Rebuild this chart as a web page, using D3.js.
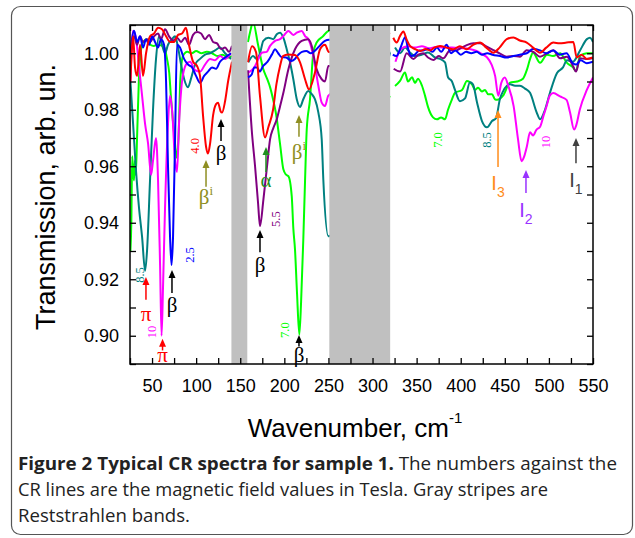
<!DOCTYPE html>
<html>
<head>
<meta charset="utf-8">
<script src="https://cdn.jsdelivr.net/npm/d3@7"></script>
<style>
body { margin: 0; background: #fff; }
</style>
</head>
<body>
<svg id="chart" width="635" height="538" font-family="Liberation Sans, Arial, sans-serif"></svg>
<script>
// Reststrahlen bands, cm-1
var bands = [[140, 158], [251, 320]]

var xMajor = [50, 100, 150, 200, 250, 300, 350, 400, 450, 500, 550]
var xMinor = [25, 75, 125, 175, 225, 275, 325, 375, 425, 475, 525]
var yMajor = [0.90, 0.92, 0.94, 0.96, 0.98, 1.00]
var yMinor = [0.89, 0.91, 0.93, 0.95, 0.97, 0.99, 1.01]

// spectra: [wavenumber, transmission]
var spec25 = [
	[25.5,1.0],[29.6,1.008],[33,1.004],[36.4,1.006],[39.8,1.002],[43.2,1.005],[46.6,1.003],[50,1.006],[53.4,1.004],[56.8,1.002],[60.2,1.005],[63.6,1.003],[65.9,0.99],[68.1,0.96],[70.4,0.935],[72.1,0.925],[73.8,0.935],[76.1,0.97],[78.3,1.003],[81.7,1.002],[86.3,0.998],[90.8,0.996],[95.4,0.995],[99.9,0.992],[104.4,0.9895],[109,0.992],[113.5,0.9935],[118,0.995],[122.6,0.9945],[127.1,0.997],[132.8,0.9985],[139.6,1.0],
	[158.8,0.9915],[163,0.9925],[166,0.995],[169,0.995],[172,0.9935],[176,0.9955],[181,0.997],[186,0.9996],[189.5,1.0014],[193,1.0],[197,0.9986],[202,0.9985],[208,0.9973],[212,0.998],[216,0.9995],[220,1.0005],[225,1.0008],[230,1.0],[235,1.001],[240,1.0026],[246,1.0044],[250.7,1.0048],
	[319.8,1.0003],[323,0.9995],[327,0.999],[330,1.0005],[333,1.003],[337,1.0057],[340,1.002],[344,0.999],[348,0.9995],[353,1.001],[358,1.001],[363,1.0015],[368,1.0005],[373,1.002],[378,1.0005],[384,1.003],[389,1.0],[394,1.001],[400,0.9995],[406,1.0005],[412,1.0],[418,1.0005],[424,0.9995],[430,1.0],[436,0.9995],[444.6,0.999],[452,0.9985],[459.8,0.999],[467,0.9995],[474.9,1.0],[482,1.0015],[490,1.001],[497,1.0],[505,1.001],[512,0.9995],[520,1.0],[527,0.9965],[531,0.996],[536,0.9975],[543,0.9965],[550,0.997]
]
var spec40 = [
	[25.5,0.99],[28.5,1.006],[30.7,0.995],[33,0.992],[36.4,1.003],[39.8,0.992],[43.2,1.0],[47.7,1.006],[52.3,1.007],[56.8,1.009],[61.3,1.0085],[65.9,1.006],[70.4,1.004],[74.9,1.004],[79.5,1.0065],[84,1.007],[88.5,1.009],[91.9,1.003],[96.5,0.997],[101,0.9955],[104.4,0.992],[107.8,0.978],[111.2,0.967],[113.5,0.9645],[115.8,0.968],[119.2,0.978],[122.6,0.982],[124.8,0.9825],[127.7,0.9795],[129.4,0.979],[132.8,0.983],[136.2,0.99],[140.7,0.997],
	[158.8,0.9968],[163.4,1.0025],[167.9,1.0004],[172.4,0.9848],[178.1,0.9702],[182,0.974],[187.2,0.98],[191,0.989],[195.1,0.9954],[198.5,0.999],[204.2,0.9996],[212.1,0.9994],[217.8,0.9968],[223.5,0.9908],[228,0.9872],[234.8,0.9933],[240.5,1.0014],[246.1,1.003],[250.5,1.0004],
	[319.8,1.0073],[323.5,1.0055],[327.4,1.0038],[331,1.006],[335,1.0077],[338.5,1.005],[342.5,1.0026],[348,1.0015],[353.9,1.0008],[360,1.0015],[365,1.001],[370,1.002],[376.5,1.0026],[384,1.002],[391.6,1.0014],[399,1.0025],[406.8,1.0014],[414,1.003],[421.9,1.0038],[429,1.002],[437,1.0002],[444,1.002],[452.2,1.005],[459.8,1.0056],[467,1.0045],[474.9,1.0038],[482,1.002],[490,1.0002],[497,1.002],[505,1.0038],[512,1.0035],[520.2,1.0038],[527.7,1.004],[531.5,0.9985],[537,0.9995],[543,0.998],[549.6,0.9985]
]
var spec55 = [
	[25.5,0.998],[29.6,1.006],[33,1.003],[36.4,1.006],[39.8,1.004],[44.3,1.005],[47.7,1.004],[52.3,1.006],[56.8,1.007],[60.2,1.005],[64.7,1.0085],[69.3,1.006],[73.8,1.0045],[78.3,1.0055],[82.9,1.004],[87.4,1.0055],[91.9,1.003],[96.5,1.0065],[101,1.0075],[105.6,1.007],[110.1,1.005],[114.6,1.0065],[119.2,1.004],[123.7,1.0035],[128.2,1.0015],[132.8,1.002],[137.3,1.0005],[140.7,1.0026],
	[158.8,0.994],[163,0.973],[166.8,0.96],[170.2,0.947],[172.4,0.9388],[176.2,0.948],[180.4,0.96],[183.8,0.9695],[187.5,0.9735],[191.4,0.9766],[195,0.981],[198.9,0.986],[204.6,0.9943],[212.1,1.0014],[219.7,1.0044],[226.9,1.005],[231.1,1.0026],[234,0.998],[236.7,0.9943],[242.4,0.9908],[246.1,0.99],[249.9,0.9955],
	[319.8,0.9955],[324,0.9945],[331.2,0.9935],[338.7,1.0],[346.3,0.998],[352,0.9995],[357.6,1.0],[363,0.9985],[369,0.9976],[375,0.999],[380.3,0.9982],[387.9,1.0011],[395.4,1.0011],[401,1.002],[406.8,1.0029],[414.3,1.0035],[421.9,1.0035],[429.5,1.0023],[437,1.0011],[444.6,0.9999],[452.1,0.9988],[460,0.999],[467.2,0.9988],[474.8,1.0011],[482.3,1.0005],[489.9,0.9988],[497.5,0.9999],[505,1.0011],[512.6,0.9982],[520.2,0.9988],[527.7,0.9952],[530.7,0.9935],[535.3,0.9982],[542,0.998],[549.6,0.9982]
]
var spec70 = [
	[25.5,0.93],[26.5,0.94],[27.5,0.9635],[28.5,0.958],[29.5,0.955],[30.5,0.962],[31.5,0.957],[33,0.97],[35,0.99],[37,1.0],[40,1.004],[44,1.005],[48,1.003],[52,1.0026],[56,1.003],[60,1.0028],[64,1.002],[67,0.998],[69.5,0.993],[71.3,0.985],[73.5,0.9766],[75.5,0.97],[78,0.963],[80,0.97],[82,0.99],[85,0.999],[90,1.0005],[95,1.0],[100,1.0008],[106,1.0],[112,1.0005],[118,1.0],[124,0.999],[130,0.9995],[136,0.9985],[140.7,0.999],
	[158.8,1.004],[161.5,1.008],[164.5,1.011],[170.2,1.003],[175.9,0.9946],[180.4,0.991],[183.8,0.988],[187.2,0.9837],[190.6,0.9785],[195.1,0.968],[198.9,0.9589],[202,0.957],[204.6,0.9565],[208.4,0.9494],[210.2,0.938],[212.1,0.9305],[214.4,0.915],[217,0.9004],[219,0.912],[221.5,0.934],[223.5,0.955],[225.4,0.973],[229.1,0.9837],[232.9,1.0002],[237,1.004],[243.9,1.006],[250.7,1.008],
	[319.8,0.9843],[325.5,0.9884],[331.2,0.9902],[336.8,0.9932],[340.2,0.99],[344.8,0.9915],[348.2,0.9895],[351.6,0.991],[356.1,0.9885],[359.5,0.985],[362.9,0.981],[368.6,0.9773],[373.1,0.9766],[377.7,0.9773],[382.2,0.9766],[385.6,0.98],[390.1,0.9837],[393.5,0.986],[401.5,0.987],[407.1,0.9902],[412.8,0.989],[416.2,0.987],[419.6,0.9878],[424.1,0.9865],[427.6,0.987],[431,0.9855],[435.5,0.9855],[438.9,0.9837],[441.2,0.9835],[448,0.985],[455.9,0.9896],[463.8,0.99],[470.6,0.991],[475.2,0.9943],[478.6,0.9979],[482,1.0002],[490,0.9966],[497.8,0.9995],[504.6,0.999],[512.6,1.0],[520.5,0.9966],[527.3,0.995],[530.7,0.9937],[535.3,0.999],[543.1,1.0],[550,1.0]
]
var spec85 = [
	[25.5,0.99],[28.5,0.975],[31.9,0.958],[35.3,0.945],[38.7,0.935],[42.1,0.923],[44.3,0.93],[47.7,0.955],[51.1,0.98],[54.5,0.998],[58,1.006],[61.3,1.003],[64.7,1.0],[68.1,1.003],[72.7,1.005],[76.1,1.006],[79.5,1.002],[82.9,0.996],[86.3,0.991],[90.8,0.988],[94.2,0.991],[98.8,0.996],[104.4,0.998],[110.1,0.9995],[115.8,1.0],[121.4,1.001],[127.1,1.002],[132.8,1.0],[139.6,0.998],
	[159.2,0.9968],[164.5,0.999],[168.7,0.998],[172.4,1.0],[176.2,1.0044],[181.9,1.0055],[187.5,1.005],[191.4,1.0067],[195.1,1.0073],[198.9,1.0055],[202.7,1.0014],[206.5,0.9967],[210.2,0.9908],[214.1,0.9837],[217.8,0.981],[221.5,0.9837],[227.2,0.9866],[231.1,0.9855],[234.8,0.9837],[238.6,0.979],[242.4,0.9695],[244.2,0.9553],[249.9,0.9352],
	[319.8,1.0003],[325.5,1.002],[331.2,1.0],[336.8,1.002],[342.5,1.0003],[348.2,0.999],[356.1,0.9995],[362.9,1.0003],[370.8,0.9985],[376.5,0.998],[382.2,0.9968],[385.6,0.9915],[390.1,0.99],[393.5,0.987],[399.2,0.983],[404.9,0.984],[410.5,0.9897],[413.9,0.989],[418.5,0.9826],[424.1,0.976],[429.8,0.9738],[435.5,0.976],[440,0.977],[444.6,0.984],[448,0.9865],[455.9,0.989],[461.6,0.9885],[467.2,0.9885],[472.9,0.9875],[478.6,0.986],[486.2,0.979],[490,0.9766],[495.6,0.98],[501.2,0.986],[509.2,0.993],[516,0.995],[520.5,0.9975],[527.3,0.997],[535.3,1.001],[543.1,1.005],[546.6,1.0055],[550,1.004]
]
var spec100 = [
	[25.5,0.99],[28.5,1.008],[31.9,1.005],[35.3,0.995],[38.7,0.985],[42.1,0.975],[45.5,0.968],[48.9,0.957],[51.1,0.962],[54.5,0.97],[56.8,0.955],[59.1,0.925],[60.8,0.9],[62.5,0.918],[64.7,0.945],[68.1,0.975],[70.4,0.985],[72.7,0.98],[76.1,0.962],[78.3,0.958],[80.6,0.975],[84,0.99],[88.5,0.996],[93.1,0.997],[98.8,0.994],[104.4,0.9935],[110.1,0.996],[115.8,0.998],[121.4,0.9975],[127.1,0.999],[132.8,0.998],[139.6,1.0],
	[158.8,0.9932],[163,0.994],[166.8,0.9955],[170.6,0.998],[174.4,1.0002],[180,1.0005],[183.8,1.0026],[189.5,1.0044],[195.1,1.005],[198.9,1.0061],[204.6,1.0079],[210.2,1.0065],[214.1,1.0073],[219.7,1.0079],[223.5,1.0061],[227.2,1.005],[231.1,1.0014],[234.8,0.9955],[238.6,0.9884],[242.4,0.9825],[246.1,0.9813],[249.9,0.985],
	[319.8,0.9955],[326,0.997],[332,1.0014],[340,1.0025],[348,1.002],[356,1.0025],[364,1.0018],[372,1.0022],[380,1.002],[390,1.002],[400,1.0018],[410,1.0015],[418,1.0008],[425,0.9995],[430,0.9985],[435,0.996],[439,0.992],[442.6,0.985],[446,0.9895],[450,0.9914],[454,0.9884],[460,0.9813],[465,0.9695],[469,0.9618],[472,0.9635],[475,0.967],[478.6,0.972],[482,0.9709],[486,0.973],[490,0.974],[494,0.978],[497.5,0.9814],[501,0.985],[505,0.9859],[512.6,0.9847],[520,0.9835],[524,0.979],[528.5,0.973],[531,0.9745],[535,0.98],[543,0.987],[550,0.9914]
]

// field labels written against the lines (T)
var fieldLabels = [
	{ text: "8.5", wn: 36.3, t: 0.9215, key: "85" },
	{ text: "10", wn: 49.9, t: 0.9013, key: "100" },
	{ text: "2.5", wn: 93, t: 0.9286, key: "25" },
	{ text: "4.0", wn: 98.7, t: 0.9672, key: "40" },
	{ text: "5.5", wn: 190.6, t: 0.9413, key: "55" },
	{ text: "7.0", wn: 200.8, t: 0.902, key: "70" },
	{ text: "7.0", wn: 374.2, t: 0.9693, key: "70" },
	{ text: "8.5", wn: 429.8, t: 0.9693, key: "85" },
	{ text: "10", wn: 496.7, t: 0.9686, key: "100" }
]

// arrows: wavenumber, tip and tail transmission, label and its position
var marks = [
	{ kind: "pi", wn: 43.1, tip: 0.9208, tail: 0.9127, label: "π", lt: 0.9077 },
	{ kind: "pi", wn: 61.9, tip: 0.8989, tail: 0.8948, label: "π", lt: 0.8934 },
	{ kind: "beta", wn: 72.6, tip: 0.9233, tail: 0.9151, label: "β", lt: 0.9109 },
	{ kind: "betai", wn: 111.2, tip: 0.9622, tail: 0.9527, label: "β", sup: "i", lt: 0.9491 },
	{ kind: "beta", wn: 128.2, tip: 0.9767, tail: 0.9689, label: "β", lt: 0.9647 },
	{ kind: "alpha", wn: 179.2, tip: 0.9668, tail: 0.958, label: "α", lt: 0.9551 },
	{ kind: "beta", wn: 172.4, tip: 0.9374, tail: 0.9296, label: "β", lt: 0.925 },
	{ kind: "betai", wn: 216.6, tip: 0.9781, tail: 0.9704, label: "β", sup: "i", lt: 0.965 },
	{ kind: "beta", wn: 216.6, tip: 0.9003, tail: 0.8962, label: "β", lt: 0.8932 },
	{ kind: "i3", wn: 442.3, tip: 0.9799, tail: 0.9597, label: "I", sub: "3", lt: 0.9541 },
	{ kind: "i2", wn: 474, tip: 0.9587, tail: 0.9505, label: "I", sub: "2", lt: 0.9445 },
	{ kind: "i1", wn: 530.7, tip: 0.97, tail: 0.9611, label: "I", sub: "1", lt: 0.9551 }
]

var lineColor = { "25": "#0000ff", "40": "#ff0000", "55": "#800080", "70": "#00ff00", "85": "#008080", "100": "#ff00ff" }
var markColor = { pi: "#ff0000", beta: "#000000", betai: "#8e8e22", alpha: "#1f8f1f", i3: "#ff8c1a", i2: "#9933ff", i1: "#404040" }

var spectra = [
	{ key: "70", data: spec70 },
	{ key: "85", data: spec85 },
	{ key: "100", data: spec100 },
	{ key: "55", data: spec55 },
	{ key: "25", data: spec25 },
	{ key: "40", data: spec40 }
]

var sans = "Liberation Sans, Arial, sans-serif"
var serif = "Liberation Serif, Times New Roman, serif"

var svg = d3.select("#chart")
var x = d3.scaleLinear().domain([25, 550]).range([130, 593])
var y = d3.scaleLinear().domain([0.89, 1.01]).range([364, 25])

// frame around the whole figure
svg.append("rect")
.attr("x", 11.5).attr("y", 6.5)
.attr("width", 621).attr("height", 528)
.attr("rx", 9)
.attr("fill", "none")
.attr("stroke", "#555")
.attr("stroke-width", 1.2)

svg.append("clipPath").attr("id", "plotclip")
.append("rect")
.attr("x", x(25)).attr("y", y(1.01))
.attr("width", x(550) - x(25)).attr("height", y(0.89) - y(1.01))

// a line for each region between the bands
function pieces(data) {
	let out = [[], [], []]
	for (let d of data) {
		let i = d[0] < bands[0][1] ? 0 : d[0] < bands[1][1] ? 1 : 2
		out[i].push(d)
	}
	return out.filter(p => p.length > 1)
}

var line = d3.line()
.x(d => x(d[0]))
.y(d => y(d[1]))
.curve(d3.curveMonotoneX)

var curves = svg.append("g").attr("clip-path", "url(#plotclip)")
for (let s of spectra) {
	curves.selectAll(null)
	.data(pieces(s.data))
	.join("path")
	.attr("d", line)
	.attr("fill", "none")
	.attr("stroke", lineColor[s.key])
	.attr("stroke-width", 2)
	.attr("stroke-linejoin", "round")
}

svg.append("g")
.selectAll("rect")
.data(bands)
.join("rect")
.attr("x", d => x(d[0]))
.attr("width", d => x(d[1]) - x(d[0]))
.attr("y", y(1.01))
.attr("height", y(0.89) - y(1.01))
.attr("fill", "#c0c0c0")

// axes, ticks inside
var xAll = xMajor.concat(xMinor)
var yAll = yMajor.concat(yMinor)
var fmtX = d => xMajor.includes(d) ? d : ""
var fmtY = d => yMajor.includes(d) ? d3.format(".2f")(d) : ""

function styleAxis(g) {
	g.select(".domain").remove()
	g.selectAll(".tick line").attr("stroke", "#000").attr("stroke-width", 1.3)
	g.selectAll(".tick text").attr("font-size", 18).attr("fill", "#000")
	.attr("font-family", sans)
}

svg.append("g").attr("transform", "translate(0," + y(0.89) + ")")
.call(d3.axisBottom(x).tickValues(xAll).tickSize(-6).tickPadding(15).tickFormat(fmtX))
.call(styleAxis)
svg.append("g").attr("transform", "translate(0," + y(1.01) + ")")
.call(d3.axisTop(x).tickValues(xAll).tickSize(-6).tickFormat(""))
.call(styleAxis)
svg.append("g").attr("transform", "translate(" + x(25) + ",0)")
.call(d3.axisLeft(y).tickValues(yAll).tickSize(-6).tickPadding(11).tickFormat(fmtY))
.call(styleAxis)
svg.append("g").attr("transform", "translate(" + x(550) + ",0)")
.call(d3.axisRight(y).tickValues(yAll).tickSize(-6).tickFormat(""))
.call(styleAxis)

svg.append("rect")
.attr("x", x(25)).attr("y", y(1.01))
.attr("width", x(550) - x(25)).attr("height", y(0.89) - y(1.01))
.attr("fill", "none")
.attr("stroke", "#000")
.attr("stroke-width", 1.5)

// axis titles
svg.append("text")
.attr("transform", "translate(55," + 197 + ") rotate(-90)")
.attr("text-anchor", "middle")
.attr("font-family", sans)
.attr("font-size", 27)
.text("Transmission, arb. un.")

var xt = svg.append("text")
.attr("x", 355).attr("y", 437)
.attr("text-anchor", "middle")
.attr("font-family", sans)
.attr("font-size", 26)
xt.append("tspan").text("Wavenumber, cm")
xt.append("tspan").attr("dy", -14).attr("font-size", 15).text("-1")

// field values
svg.append("g")
.selectAll("text")
.data(fieldLabels)
.join("text")
.attr("transform", d => "translate(" + x(d.wn) + "," + y(d.t) + ") rotate(-90)")
.attr("text-anchor", "middle")
.attr("dy", "0.35em")
.attr("font-family", serif)
.attr("font-size", 12.5)
.attr("fill", d => lineColor[d.key])
.text(d => d.text)

// arrows with their labels
var mg = svg.append("g")
for (let m of marks) {
	let c = markColor[m.kind]
	let xx = x(m.wn)
	mg.append("line")
	.attr("x1", xx).attr("x2", xx)
	.attr("y1", y(m.tail)).attr("y2", y(m.tip) + 6)
	.attr("stroke", c)
	.attr("stroke-width", 1.5)
	mg.append("path")
	.attr("d", "M" + xx + "," + y(m.tip) + "l-3.5,8h7z")
	.attr("fill", c)
	let t = mg.append("text")
	.attr("x", xx).attr("y", y(m.lt))
	.attr("dy", "0.35em")
	.attr("text-anchor", "middle")
	.attr("fill", c)
	if (m.sub) {
		t.attr("font-family", sans).attr("font-size", 20)
		t.append("tspan").text(m.label)
		t.append("tspan").attr("dy", 7).attr("font-size", 14).text(m.sub)
	} else {
		t.attr("font-family", serif).attr("font-size", 21)
		t.append("tspan").text(m.label)
		if (m.sup)
			t.append("tspan").attr("dy", -9).attr("font-size", 13).text(m.sup)
	}
}

// caption
var capFont = "Open Sans, sans-serif"
var cap = svg.append("g")
.attr("font-family", capFont)
.attr("font-size", 17.5)
.attr("fill", "#222")
var l1 = cap.append("text").attr("x", 18).attr("y", 470)
.attr("textLength", 599).attr("lengthAdjust", "spacingAndGlyphs")
l1.append("tspan").attr("font-weight", "bold").text("Figure 2 Typical CR spectra for sample 1.")
l1.append("tspan").text(" The numbers against the")
cap.append("text").attr("x", 18).attr("y", 496)
.attr("textLength", 530).attr("lengthAdjust", "spacingAndGlyphs")
.text("CR lines are the magnetic field values in Tesla. Gray stripes are")
cap.append("text").attr("x", 18).attr("y", 522)
.attr("textLength", 172).attr("lengthAdjust", "spacingAndGlyphs")
.text("Reststrahlen bands.")
</script>
</body>
</html>
